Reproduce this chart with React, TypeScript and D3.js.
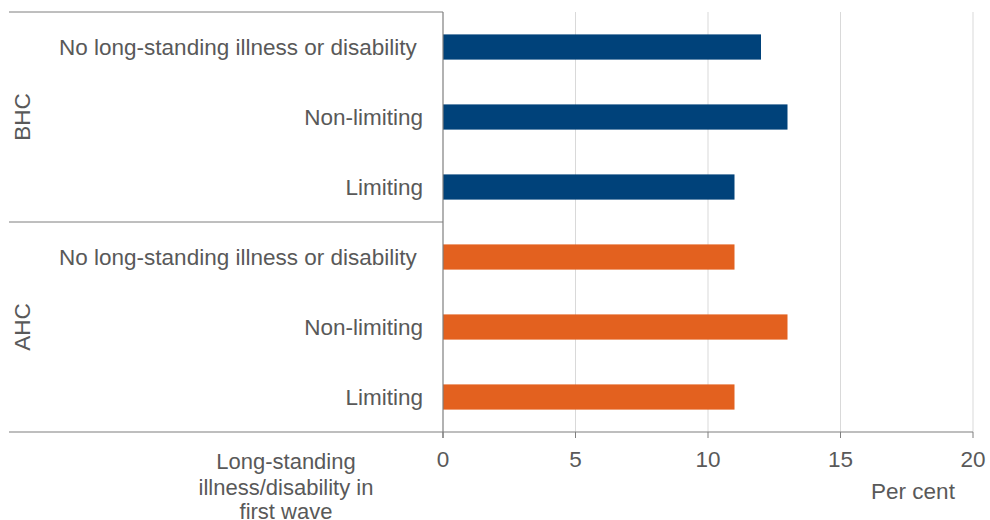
import React from "react";
import * as d3 from "d3";

const groups = ["BHC", "AHC"];
const categories = ["No long-standing illness or disability ", "Non-limiting", "Limiting"];
const bhcValues = [12, 13, 11];
const ahcValues = [11, 13, 11];
const xTicks = [0, 5, 10, 15, 20];
const colors = ["#00427A", "#E3611F"];

const W = 990, H = 520;
const left = 443, right = 973, top = 12, bottom = 432;

export default function App() {
  const x = d3.scaleLinear().domain([0, 20]).range([left, right]);
  const rows = groups.flatMap((g, gi) =>
    categories.map((c, ci) => ({ key: `${g}-${ci}`, group: g, gi, cat: c, value: gi === 0 ? bhcValues[ci] : ahcValues[ci] }))
  );
  const y = d3.scaleBand().domain(rows.map(r => r.key)).range([top, bottom]).paddingInner(0.64).paddingOuter(0.32);
  const groupBand = d3.scaleBand().domain(groups).range([top, bottom]);
  const font = "'Liberation Sans', Arial, sans-serif";
  const textColor = "#595959";
  const lineColor = "#7f7f7f";
  const fs = 22.5;

  return (
    <svg width={W} height={H} style={{ position: "absolute", left: 0, top: 0, background: "#fff" }} fontFamily={font}>
      {xTicks.slice(1).map(t => (
        <line key={t} x1={x(t)} x2={x(t)} y1={top} y2={bottom} stroke="#d9d9d9" strokeWidth={1} />
      ))}
      {rows.map(r => (
        <rect key={r.key} x={x(0)} y={y(r.key)!} width={x(r.value) - x(0)} height={y.bandwidth()} fill={colors[r.gi]} />
      ))}
      {rows.map(r => (
        <text key={r.key + "l"} x={423} y={y(r.key)! + y.bandwidth() / 2} dy="0.35em" textAnchor="end" fontSize={fs} fill={textColor} style={{ whiteSpace: "pre" }}>
          {r.cat}
        </text>
      ))}
      {groups.map(g => {
        const cy = groupBand(g)! + groupBand.bandwidth() / 2;
        return (
          <text key={g} transform={`translate(22,${cy}) rotate(-90)`} dy="0.35em" textAnchor="middle" fontSize={fs} fill={textColor}>
            {g}
          </text>
        );
      })}
      <line x1={9} x2={left} y1={top} y2={top} stroke={lineColor} strokeWidth={1} />
      <line x1={9} x2={left} y1={groupBand("AHC")!} y2={groupBand("AHC")!} stroke={lineColor} strokeWidth={1} />
      <line x1={9} x2={right} y1={bottom} y2={bottom} stroke={lineColor} strokeWidth={1.2} />
      <line x1={left} x2={left} y1={top} y2={bottom + 6} stroke={lineColor} strokeWidth={1.2} />
      {xTicks.map(t => (
        <g key={"t" + t}>
          <line x1={x(t)} x2={x(t)} y1={bottom} y2={bottom + 6} stroke={lineColor} strokeWidth={1} />
          <text x={x(t)} y={467} textAnchor="middle" fontSize={fs} fill={textColor}>{t}</text>
        </g>
      ))}
      <text x={913} y={499} textAnchor="middle" fontSize={fs} fill={textColor}>Per cent</text>
      <text textAnchor="middle" fontSize={22} fill={textColor}>
        <tspan x={286} y={469}>Long-standing</tspan>
        <tspan x={286} y={494.5}>illness/disability in</tspan>
        <tspan x={286} y={519}>first wave</tspan>
      </text>
    </svg>
  );
}
